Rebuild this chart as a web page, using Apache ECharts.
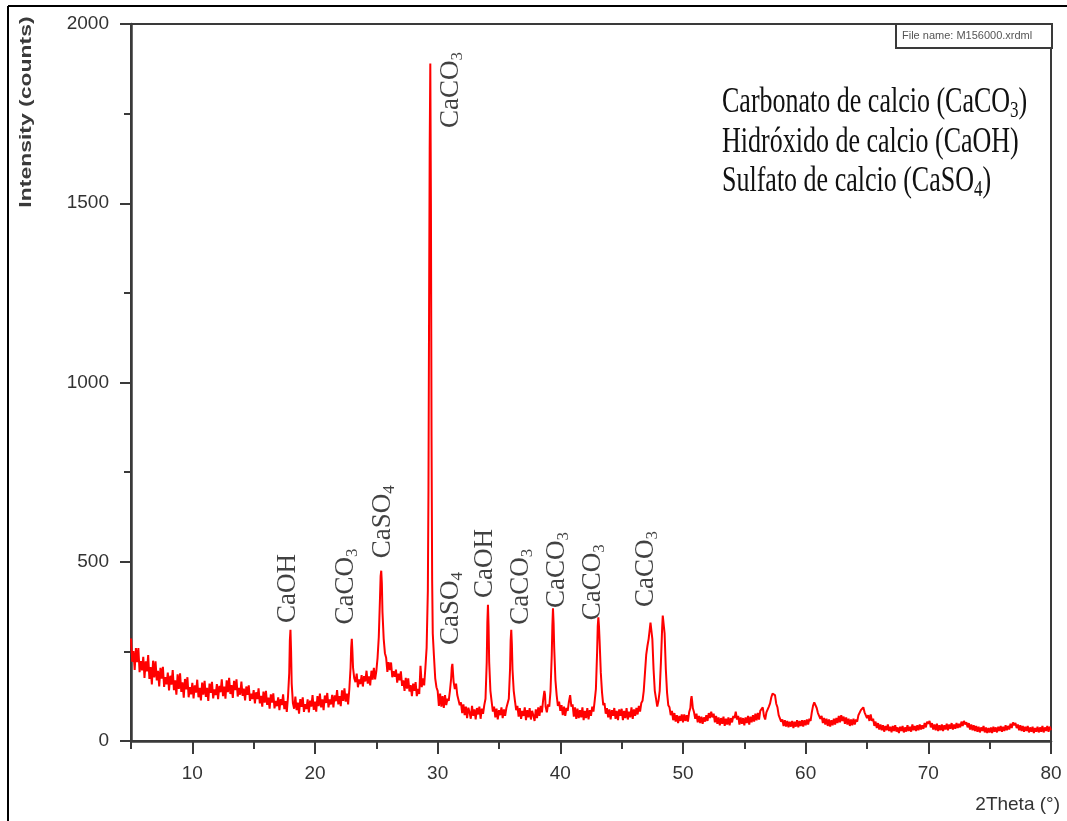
<!DOCTYPE html>
<html>
<head>
<meta charset="utf-8">
<script src="https://cdn.jsdelivr.net/npm/echarts@6/dist/echarts.min.js"></script>
<style>
html,body{margin:0;padding:0;background:#fff;}
#chart{width:1067px;height:821px;}
</style>
</head>
<body>
<div id="chart"></div>
<script>
// ---------- data ----------
// XRD scan: [2Theta (deg), intensity (counts)]
const scanLow = [
[5.0,286],[5.1,221],[5.2,251],[5.3,198],[5.4,259],[5.5,220],[5.6,259],[5.7,192],[5.8,223],[5.9,197],
[6.0,235],[6.1,176],[6.2,222],[6.3,194],[6.4,240],[6.5,173],[6.6,206],[6.7,158],[6.8,224],[6.9,177],
[7.0,222],[7.1,169],[7.2,196],[7.3,152],[7.4,204],[7.5,174],[7.6,207],[7.7,151],[7.8,178],[7.9,158],
[8.0,191],[8.1,141],[8.2,182],[8.3,157],[8.4,198],[8.5,142],[8.6,169],[8.7,129],[8.8,186],[8.9,145],
[9.0,189],[9.1,137],[9.2,164],[9.3,121],[9.4,173],[9.5,144],[9.6,178],[9.7,122],[9.8,150],[9.9,130],
[10.0,162],[10.1,119],[10.2,155],[10.3,135],[10.4,171],[10.5,122],[10.6,148],[10.7,113],[10.8,163],[10.9,129],
[11.0,168],[11.1,123],[11.2,148],[11.3,112],[11.4,160],[11.5,134],[11.6,165],[11.7,119],[11.8,144],[11.9,128],
[12.0,159],[12.1,117],[12.2,154],[12.3,136],[12.4,172],[12.5,125],[12.6,152],[12.7,118],[12.8,169],[12.9,136],
[13.0,176],[13.1,131],[13.2,156],[13.3,120],[13.4,168],[13.5,142],[13.6,172],[13.7,124],[13.8,148],[13.9,129],
[14.0,166],[14.1,126],[14.2,146],[14.3,113],[14.4,152],[14.5,129],[14.6,155],[14.7,112],[14.8,132],[14.9,117],
[15.0,142],[15.1,105],[15.2,136],[15.3,117],[15.4,147],[15.5,105],[15.6,126],[15.7,96],[15.8,138],[15.9,107],
[16.0,140],[16.1,101],[16.2,121],[16.3,90],[16.4,130],[16.5,107],[16.6,133],[16.7,91],[16.8,112],[16.9,97],
[17.0,122],[17.1,86],[17.2,117],[17.3,100],[17.4,130],[17.5,89],[17.6,111],[17.7,81],[17.8,124],[17.9,190],
[17.95,280],[18.0,310],[18.05,250],[18.1,160],[18.2,105],[18.3,90],[18.4,124],[18.5,86],[18.6,107],[18.7,76],
[18.8,117],[18.9,95],[19.0,122],[19.1,81],[19.2,103],[19.3,89],[19.4,116],[19.5,80],[19.6,113],[19.7,96],
[19.8,128],[19.9,87],[20.0,110],[20.1,82],[20.2,125],[20.3,97],[20.4,132],[20.5,94],[20.6,116],[20.7,86],
[20.8,127],[20.9,106],[21.0,134],[21.1,94],[21.2,116],[21.3,102],[21.4,129],[21.5,94],[21.6,127],[21.7,111],
[21.8,142],[21.9,102],[22.0,125],[22.1,97],[22.2,141],[22.3,112],[22.4,147],[22.5,110],[22.6,132],[22.7,102],
[22.8,145],[22.9,205],[22.95,260],[23.0,285],[23.05,250],[23.1,205],[23.2,175],[23.3,164],[23.4,188],[23.5,150],
[23.6,172],[23.7,159],[23.8,184],[23.9,152],[24.0,181],[24.1,166],[24.2,196],[24.3,160],[24.4,180],[24.5,155],
[24.6,196],[24.7,171],[24.8,204],[24.9,172],[25.0,195],[25.1,232],[25.2,290],[25.3,400],[25.35,460],[25.4,475],
[25.45,440],[25.5,360],[25.6,285],[25.7,245],[25.8,232],[25.9,193],[26.0,220],[26.1,198],[26.2,219],[26.3,178],
[26.4,195],[26.5,179],[26.6,199],[26.7,163],[26.8,188],[26.9,169],[27.0,194],[27.1,154],[27.2,169],[27.3,140],
[27.4,176],[27.5,146],[27.6,175],[27.7,138],[27.8,156],[27.9,125],[28.0,160],[28.1,140],[28.2,164],[28.3,125],
[28.4,145],[28.5,131],[28.6,210],[28.65,185],[28.7,150]
];
const scanMain = [
[28.8,175],[28.9,155],[29.0,205],[29.1,260],[29.2,420],[29.25,700],[29.3,1200],[29.35,1650],[29.4,1890],[29.45,1500],
[29.5,850],[29.55,450],[29.6,300],[29.7,235],[29.8,175],[29.9,150],[30.0,140],[30.1,98],[30.2,132],[30.3,96],
[30.4,125],[30.5,92],[30.6,128],[30.7,100],[30.8,118],[30.9,112],[31.0,140],[31.1,175],[31.15,205],[31.2,215],
[31.25,190],[31.3,165],[31.4,145],[31.5,160],[31.6,128],[31.7,125],[31.8,100],[31.9,108]
];
const scanMid = [
[32.0,78],[32.1,102],[32.2,72],[32.3,96],[32.4,64],[32.5,93],[32.6,80],[32.7,62],[32.8,98],[32.9,70],
[33.0,88],[33.1,60],[33.2,92],[33.3,74],[33.4,96],[33.5,62],[33.6,90],[33.7,76],[33.8,100],[33.9,118],
[34.0,220],[34.05,330],[34.1,380],[34.15,320],[34.2,220],[34.3,140],[34.4,110],[34.5,82],[34.6,96],[34.7,66],
[34.8,90],[34.9,60],[35.0,86],[35.1,72],[35.2,94],[35.3,64],[35.4,88],[35.5,70],[35.6,92],[35.7,90],
[35.8,118],[35.9,200],[35.95,280],[36.0,310],[36.05,270],[36.1,200],[36.2,140],[36.3,112],[36.4,86],[36.5,98],
[36.6,68],[36.7,92],[36.8,62],[36.9,84],[37.0,70],[37.1,94],[37.2,58],[37.3,86],[37.4,66],[37.5,92],
[37.6,60],[37.7,84],[37.8,72],[37.9,56],[38.0,88],[38.1,64],[38.2,94],[38.3,70],[38.4,98],[38.5,80],
[38.6,115],[38.7,140],[38.75,130],[38.8,96],[38.9,80],[39.0,102],[39.1,96],[39.2,140],[39.3,240],[39.35,320],
[39.4,370],[39.45,330],[39.5,260],[39.6,170],[39.7,128],[39.8,98],[39.9,110],[40.0,84],[40.1,100],[40.2,72],
[40.3,96],[40.4,70],[40.5,92],[40.6,84],[40.7,110],[40.8,128],[40.9,96],[41.0,102],[41.1,68],[41.2,94],
[41.3,62],[41.4,90],[41.5,64],[41.6,86],[41.7,66],[41.8,94],[41.9,58],[42.0,84],[42.1,64],[42.2,92],
[42.3,60],[42.4,86],[42.5,70],[42.6,96],[42.7,82],[42.8,112],[42.9,145],[43.0,250],[43.05,320],[43.1,345],
[43.15,320],[43.2,280],[43.3,190],[43.4,135],[43.5,100],[43.6,106],[43.7,76],[43.8,92],[43.9,66],[44.0,88],
[44.1,60],[44.2,86],[44.3,70],[44.4,92],[44.5,62],[44.6,84],[44.7,58],[44.8,88],[44.9,70],[45.0,90],
[45.1,58],[45.2,84],[45.3,64],[45.4,92],[45.5,60],[45.6,82],[45.7,66],[45.8,94],[45.9,62],[46.0,88],
[46.1,70],[46.2,92],[46.3,74],[46.4,98],[46.5,82],[46.6,106],[46.7,112],[46.8,140],[46.9,190],[47.0,240],
[47.1,265],[47.2,285],[47.3,315],[47.35,330],[47.4,325],[47.5,285],[47.6,200],[47.7,140],[47.8,118],[47.9,96],
[48.0,112],[48.1,140],[48.2,220],[48.3,315],[48.35,350],[48.4,355],[48.5,300],[48.6,200],[48.7,135],[48.8,100],
[48.9,94],[49.0,72],[49.1,84],[49.2,58],[49.3,78],[49.4,54],[49.5,72],[49.6,50],[49.7,70],[49.8,56],
[49.9,74]
];
const scanHigh = [
[50.0,52],[50.1,74],[50.2,56],[50.3,72],[50.4,54],[50.5,80],[50.6,92],[50.65,115],[50.7,125],[50.75,110],
[50.8,92],[50.9,80],[51.0,62],[51.1,76],[51.2,52],[51.3,70],[51.4,50],[51.5,68],[51.6,48],[51.7,66],
[51.8,54],[51.9,72],[52.0,56],[52.1,78],[52.2,64],[52.3,82],[52.4,66],[52.5,76],[52.6,52],[52.7,70],
[52.8,48],[52.9,66],[53.0,44],[53.1,64],[53.2,48],[53.3,68],[53.4,42],[53.5,62],[53.6,46],[53.7,66],
[53.8,44],[53.9,64],[54.0,52],[54.1,70],[54.2,64],[54.3,82],[54.4,60],[54.5,70],[54.6,46],[54.7,66],
[54.8,48],[54.9,64],[55.0,44],[55.1,66],[55.2,50],[55.3,70],[55.4,46],[55.5,68],[55.6,52],[55.7,72],
[55.8,54],[55.9,76],[56.0,58],[56.1,78],[56.2,60],[56.3,84],[56.4,88],[56.5,94],[56.6,70],[56.7,60],
[56.8,80],[56.9,76],[57.0,96],[57.1,105],[57.2,122],[57.3,132],[57.4,137],[57.5,128],[57.6,104],[57.7,94],
[57.8,72],[57.9,74],[58.0,54],[58.1,60],[58.2,42],[58.3,58],[58.4,40],[58.5,56],[58.6,38],[58.7,54],
[58.8,40],[58.9,56],[59.0,36],[59.1,54],[59.2,40],[59.3,58],[59.4,38],[59.5,56],[59.6,42],[59.7,58],
[59.8,40],[59.9,58],[60.0,44],[60.1,60],[60.2,46],[60.3,62],[60.4,56],[60.5,80],[60.6,98],[60.7,108],
[60.8,100],[60.9,92],[61.0,78],[61.1,82],[61.2,62],[61.3,70],[61.4,50],[61.5,64],[61.6,46],[61.7,62],
[61.8,42],[61.9,60],[62.0,40],[62.1,58],[62.2,44],[62.3,62],[62.4,46],[62.5,64],[62.6,50],[62.7,70],
[62.8,52],[62.9,72],[63.0,56],[63.1,68],[63.2,48],[63.3,66],[63.4,46],[63.5,62],[63.6,42],[63.7,60],
[63.8,44],[63.9,62],[64.0,46],[64.1,60],[64.2,54],[64.3,72],[64.4,68],[64.5,86],[64.6,84],[64.7,94],
[64.8,80],[64.9,82],[65.0,64],[65.1,72],[65.2,56],[65.3,74],[65.4,56],[65.5,62],[65.6,42],[65.7,54],
[65.8,36],[65.9,50],[66.0,32]
];
const scanTail = [
[66.1,46],[66.2,30],[66.3,44],[66.4,26],[66.5,42],[66.6,30],[66.7,46],[66.8,28],[66.9,40],[67.0,24],
[67.1,42],[67.2,28],[67.3,44],[67.4,26],[67.5,38],[67.6,22],[67.7,40],[67.8,28],[67.9,42],[68.0,24],
[68.1,38],[68.2,26],[68.3,44],[68.4,28],[68.5,40],[68.6,26],[68.7,46],[68.8,30],[68.9,42],[69.0,28],
[69.1,44],[69.2,30],[69.3,46],[69.4,32],[69.5,44],[69.6,34],[69.7,50],[69.8,38],[69.9,54],[70.0,48],
[70.1,56],[70.2,38],[70.3,50],[70.4,32],[70.5,46],[70.6,30],[70.7,48],[70.8,28],[70.9,44],[71.0,30],
[71.1,46],[71.2,28],[71.3,44],[71.4,32],[71.5,48],[71.6,30],[71.7,46],[71.8,34],[71.9,50],[72.0,32],
[72.1,46],[72.2,34],[72.3,50],[72.4,36],[72.5,48],[72.6,38],[72.7,54],[72.8,42],[72.9,56],[73.0,46],
[73.1,52],[73.2,38],[73.3,50],[73.4,32],[73.5,46],[73.6,30],[73.7,44],[73.8,28],[73.9,42],[74.0,26],
[74.1,40],[74.2,24],[74.3,38],[74.4,28],[74.5,42],[74.6,24],[74.7,38],[74.8,22],[74.9,36],[75.0,24],
[75.1,38],[75.2,22],[75.3,40],[75.4,26],[75.5,38],[75.6,24],[75.7,40],[75.8,28],[75.9,42],[76.0,26],
[76.1,40],[76.2,28],[76.3,44],[76.4,30],[76.5,42],[76.6,32],[76.7,48],[76.8,36],[76.9,52],[77.0,44],
[77.1,50],[77.2,36],[77.3,46],[77.4,30],[77.5,44],[77.6,28],[77.7,42],[77.8,26],[77.9,40],[78.0,28],
[78.1,42],[78.2,24],[78.3,38],[78.4,26],[78.5,40],[78.6,22],[78.7,36],[78.8,26],[78.9,40],[79.0,24],
[79.1,38],[79.2,26],[79.3,42],[79.4,24],[79.5,38],[79.6,28],[79.7,42],[79.8,26],[79.9,40],[80.0,30]
];

// Peak annotations (text anchored at the bottom of the rotated label)
const peakNames  = ['CaOH','CaCO3','CaSO4','CaCO3','CaSO4','CaOH','CaCO3','CaCO3','CaCO3','CaCO3'];
const peakLabelTheta  = [17.78, 22.5, 25.57, 31.12, 31.1, 33.82, 36.76, 39.74, 42.67, 46.96];
const peakLabelCounts = [329, 325, 510, 1710, 268, 399, 324, 371, 337, 374];

// Axes
const xMajorTicks = [10, 20, 30, 40, 50, 60, 70, 80];
const xMinorTicks = [5, 15, 25, 35, 45, 55, 65, 75];
const yMajorTicks = [0, 500, 1000, 1500, 2000];
const yMinorTicks = [250, 750, 1250, 1750];
const xName = '2Theta (°)';
const yName = 'Intensity (counts)';
const legendLines = ['Carbonato de calcio (CaCO3)', 'Hidróxido de calcio (CaOH)', 'Sulfato de calcio (CaSO4)'];
const fileName = 'File name: M156000.xrdml';

// ---------- chart ----------
const SANS = "'Liberation Sans', Arial, sans-serif";
const SERIF = "'Liberation Serif', 'Times New Roman', serif";
const AX = '#3a3a3a';
const subscript = s => s.replace(/(\d)/g, '{s|$1}');

const scan = scanLow.concat(scanMain, scanMid, scanHigh, scanTail);
const peakData = peakNames.map((n, i) => ({ name: n, value: [peakLabelTheta[i], peakLabelCounts[i]] }));

const chart = echarts.init(document.getElementById('chart'), null, { renderer: 'canvas' });
chart.setOption({
  animation: false,
  backgroundColor: '#ffffff',
  grid: { left: 131, right: 16, top: 24, bottom: 80, show: true, borderColor: AX, borderWidth: 2, backgroundColor: 'transparent' },
  xAxis: [
    { type: 'value', min: 5, max: 80, position: 'bottom',
      axisLine: { show: true, lineStyle: { color: AX, width: 2.5 } },
      axisTick: { show: true, inside: false, length: 13, customValues: xMajorTicks, lineStyle: { color: AX, width: 2 } },
      axisLabel: { show: true, customValues: xMajorTicks, margin: 23, fontSize: 19, fontFamily: SANS, color: '#333', formatter: v => String(v) },
      splitLine: { show: false } },
    { type: 'value', min: 5, max: 80, position: 'bottom',
      axisLine: { show: false },
      axisTick: { show: true, inside: false, length: 8, customValues: xMinorTicks, lineStyle: { color: AX, width: 2 } },
      axisLabel: { show: false }, splitLine: { show: false } }
  ],
  yAxis: [
    { type: 'value', min: 0, max: 2000, position: 'left',
      axisLine: { show: true, lineStyle: { color: AX, width: 2.5 } },
      axisTick: { show: true, inside: false, length: 11, customValues: yMajorTicks, lineStyle: { color: AX, width: 2 } },
      axisLabel: { show: true, customValues: yMajorTicks, margin: 22, fontSize: 19, fontFamily: SANS, color: '#333', formatter: v => String(v) },
      splitLine: { show: false } },
    { type: 'value', min: 0, max: 2000, position: 'left',
      axisLine: { show: false },
      axisTick: { show: true, inside: false, length: 7, customValues: yMinorTicks, lineStyle: { color: AX, width: 2 } },
      axisLabel: { show: false }, splitLine: { show: false } }
  ],
  series: [
    { type: 'line', name: 'XRD', data: scan, xAxisIndex: 0, yAxisIndex: 0,
      showSymbol: false, symbol: 'none', smooth: false,
      lineStyle: { color: '#ff0000', width: 2 }, z: 3 },
    { type: 'scatter', name: 'peaks', data: peakData, xAxisIndex: 0, yAxisIndex: 0,
      symbolSize: 0, silent: true, z: 4,
      label: { show: true, position: 'inside', rotate: 90, align: 'left', verticalAlign: 'middle',
        formatter: p => subscript(p.name),
        fontFamily: SERIF, fontSize: 27, lineHeight: 30, color: '#111',
        rich: { s: { fontFamily: SERIF, fontSize: 17, lineHeight: 30, verticalAlign: 'bottom', color: '#111' } } } }
  ],
  graphic: [
    { type: 'line', shape: { x1: 8, y1: 6, x2: 1067, y2: 6 }, style: { stroke: '#000', lineWidth: 2 }, z: 10 },
    { type: 'line', shape: { x1: 8, y1: 6, x2: 8, y2: 821 }, style: { stroke: '#000', lineWidth: 2 }, z: 10 },
    { type: 'rect', shape: { x: 896, y: 24, width: 156, height: 24 }, style: { fill: '#fff', stroke: AX, lineWidth: 2 }, z: 10 },
    { type: 'text', x: 902, y: 36, z: 11,
      style: { text: fileName, fontFamily: SANS, fontSize: 11, fill: '#555', textVerticalAlign: 'middle' } },
    { type: 'text', x: 722, y: 83, scaleY: 1.4, z: 11,
      style: { text: legendLines.map(subscript).join('\n'), fontFamily: SERIF, fontSize: 26, lineHeight: 28.2, fill: '#111',
        rich: { s: { fontFamily: SERIF, fontSize: 17, lineHeight: 28.2, verticalAlign: 'bottom', fill: '#111' } } } },
    { type: 'text', x: 26, y: 112, rotation: Math.PI / 2, scaleX: 1.35, z: 11,
      style: { text: yName, fontFamily: SANS, fontSize: 17, fontWeight: 'bold', fill: '#3a3a3a', textAlign: 'center', textVerticalAlign: 'middle' } },
    { type: 'text', x: 1060, y: 805, z: 11,
      style: { text: xName, fontFamily: SANS, fontSize: 19, fill: '#333', textAlign: 'right', textVerticalAlign: 'middle' } }
  ]
});
</script>
</body>
</html>
